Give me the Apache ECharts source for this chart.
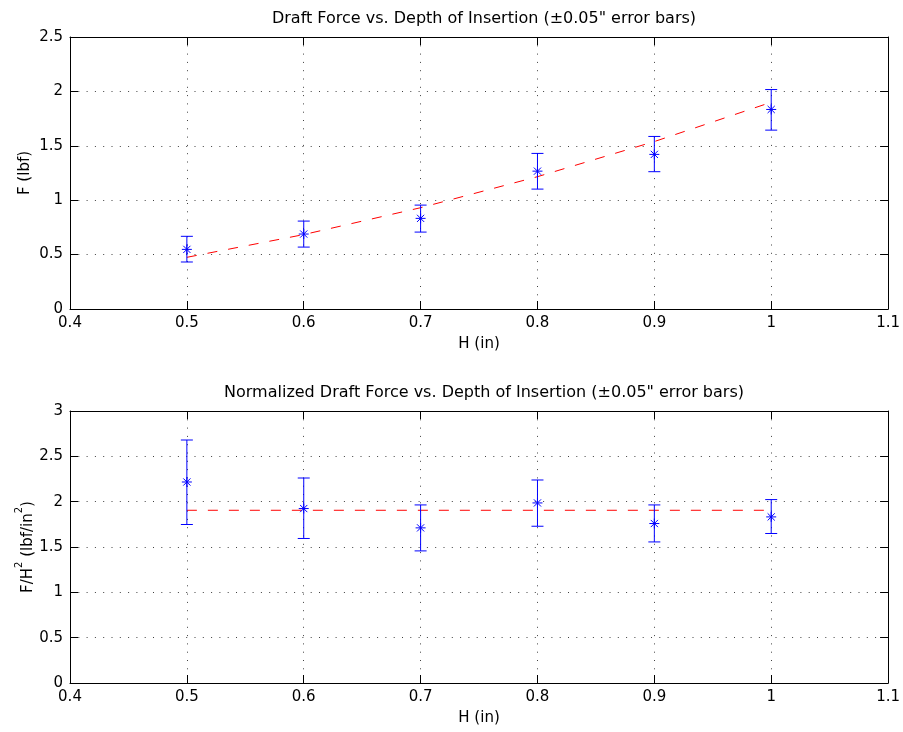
<!DOCTYPE html>
<html>
<head>
<meta charset="utf-8">
<script src="https://cdn.jsdelivr.net/npm/echarts@6/dist/echarts.min.js"></script>
<style>
html,body{margin:0;padding:0;background:#fff;}
#c{width:903px;height:732px;}
</style>
</head>
<body>
<div id="c"></div>
<script>
// ---- data ----
var H = [0.5, 0.6, 0.7, 0.8, 0.9, 1.0];
// top: draft force
var F = [0.548, 0.689, 0.833, 1.267, 1.421, 1.834];
var F_low = [0.432, 0.569, 0.707, 1.102, 1.262, 1.644];
var F_high = [0.668, 0.808, 0.955, 1.430, 1.586, 2.017];
var F_fit = [0.475, 0.684, 0.931, 1.216, 1.539, 1.900];
// bottom: normalized
var Fn = [2.217, 1.924, 1.711, 1.986, 1.759, 1.832];
var Fn_low = [1.748, 1.594, 1.457, 1.729, 1.556, 1.649];
var Fn_high = [2.680, 2.261, 1.964, 2.239, 1.964, 2.023];
var Fn_fit = [1.905, 1.905, 1.905, 1.905, 1.905, 1.905];
// axes
var xTicks = [0.4, 0.5, 0.6, 0.7, 0.8, 0.9, 1.0, 1.1];
var yTopTicks = [0, 0.5, 1, 1.5, 2, 2.5];
var yBotTicks = [0, 0.5, 1, 1.5, 2, 2.5, 3];

var FONT = 'DejaVu Sans, Liberation Sans, Arial, sans-serif';
var FS = 15;
var chart = echarts.init(document.getElementById('c'), null, {renderer: 'canvas'});

function zip(a, b, c, d) {
  return a.map(function (v, i) { return [v, b[i], c[i], d[i]]; });
}
function pairs(a, b) { return a.map(function (v, i) { return [v, b[i]]; }); }

function renderErr(params, api) {
  var x = api.value(0), y = api.value(1), lo = api.value(2), hi = api.value(3);
  var p = api.coord([x, y]);
  var pl = api.coord([x, lo]);
  var ph = api.coord([x, hi]);
  var cap = 6, r = 5, d = 3.6;
  var st = {stroke: '#0000ff', lineWidth: 1, fill: null};
  function ln(x1, y1, x2, y2) {
    return {type: 'line', shape: {x1: x1, y1: y1, x2: x2, y2: y2}, style: st};
  }
  return {
    type: 'group',
    children: [
      ln(p[0], pl[1], p[0], ph[1]),
      ln(p[0] - cap, pl[1], p[0] + cap, pl[1]),
      ln(p[0] - cap, ph[1], p[0] + cap, ph[1]),
      ln(p[0] - r, p[1], p[0] + r, p[1]),
      ln(p[0], p[1] - r, p[0], p[1] + r),
      ln(p[0] - d, p[1] - d, p[0] + d, p[1] + d),
      ln(p[0] - d, p[1] + d, p[0] + d, p[1] - d)
    ]
  };
}

var gridLine = {show: true, lineStyle: {color: '#000', width: 1, type: [1, 7.3], opacity: 0.75}};

function xAx(gi, pos, showLabel, name) {
  return {
    type: 'value', gridIndex: gi, position: pos,
    min: xTicks[0], max: xTicks[xTicks.length - 1], interval: 0.1,
    axisLine: {show: true, onZero: false, lineStyle: {color: '#000', width: 1}},
    axisTick: {show: true, inside: true, length: 8, lineStyle: {color: '#000'}},
    axisLabel: {show: showLabel, color: '#000', fontSize: FS, fontFamily: FONT, margin: 7,
      formatter: function (v) { return String(Math.round(v * 10) / 10); }},
    splitLine: showLabel ? gridLine : {show: false},
    name: name || '', nameLocation: 'middle', nameGap: 28, nameMoveOverlap: false,
    nameTextStyle: {color: '#000', fontSize: FS, fontFamily: FONT}
  };
}
function yAx(gi, pos, ticks, showLabel, name, gap, rich) {
  var ax = {
    type: 'value', gridIndex: gi, position: pos,
    min: ticks[0], max: ticks[ticks.length - 1], interval: 0.5,
    axisLine: {show: true, onZero: false, lineStyle: {color: '#000', width: 1}},
    axisTick: {show: true, inside: true, length: 8, lineStyle: {color: '#000'}},
    axisLabel: {show: showLabel, color: '#000', fontSize: FS, fontFamily: FONT, margin: 7},
    splitLine: showLabel ? gridLine : {show: false},
    name: name || '', nameLocation: 'middle', nameGap: gap || 33, nameRotate: 90, nameMoveOverlap: false,
    nameTextStyle: {color: '#000', fontSize: FS, fontFamily: FONT}
  };
  if (rich) ax.nameTextStyle.rich = rich;
  return ax;
}

var supRich = {
  n: {fontSize: FS, fontFamily: FONT, color: '#000', lineHeight: 22, verticalAlign: 'bottom'},
  s: {fontSize: 10, fontFamily: FONT, color: '#000', lineHeight: 22, verticalAlign: 'top'}
};

var option = {
  animation: false,
  backgroundColor: '#fff',
  title: [
    {text: 'Draft Force vs. Depth of Insertion (\u00b10.05" error bars)', left: 479, top: 6, textAlign: 'center',
      textStyle: {color: '#000', fontSize: 16, fontWeight: 'normal', fontFamily: FONT}},
    {text: 'Normalized Draft Force vs. Depth of Insertion (\u00b10.05" error bars)', left: 479, top: 380, textAlign: 'center',
      textStyle: {color: '#000', fontSize: 16, fontWeight: 'normal', fontFamily: FONT}}
  ],
  grid: [
    {left: 70, right: 14, top: 37, height: 272},
    {left: 70, right: 14, top: 411, height: 272}
  ],
  xAxis: [
    xAx(0, 'bottom', true, 'H (in)'),
    xAx(0, 'top', false),
    xAx(1, 'bottom', true, 'H (in)'),
    xAx(1, 'top', false)
  ],
  yAxis: [
    yAx(0, 'left', yTopTicks, true, 'F (lbf)', 37),
    yAx(0, 'right', yTopTicks, false),
    yAx(1, 'left', yBotTicks, true, '{n|F/H}{s|2}{n| (lbf/in}{s|2}{n|)}', 34, supRich),
    yAx(1, 'right', yBotTicks, false)
  ],
  series: [
    {type: 'line', xAxisIndex: 0, yAxisIndex: 0, data: pairs(H, F_fit), showSymbol: false, symbol: 'none',
      lineStyle: {color: '#ff0000', width: 1, type: [10, 11]}, z: 3},
    {type: 'custom', xAxisIndex: 0, yAxisIndex: 0, data: zip(H, F, F_low, F_high), renderItem: renderErr, z: 4},
    {type: 'line', xAxisIndex: 2, yAxisIndex: 2, data: pairs(H, Fn_fit), showSymbol: false, symbol: 'none',
      lineStyle: {color: '#ff0000', width: 1, type: [10, 11]}, z: 3},
    {type: 'custom', xAxisIndex: 2, yAxisIndex: 2, data: zip(H, Fn, Fn_low, Fn_high), renderItem: renderErr, z: 4}
  ]
};
chart.setOption(option);
</script>
</body>
</html>
